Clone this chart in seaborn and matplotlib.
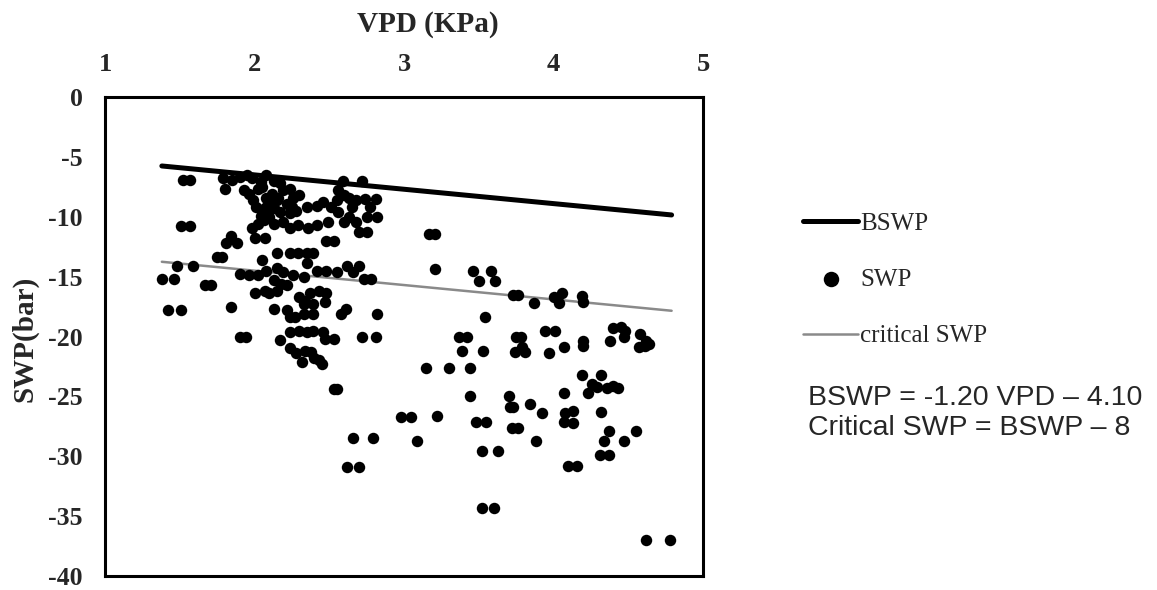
import matplotlib
matplotlib.use("Agg")
import matplotlib.pyplot as plt
import seaborn as sns

vpd = [
    1.52, 1.57, 1.51, 1.57, 1.38, 1.46, 1.48, 1.59, 1.67, 1.71,
    1.42, 1.51, 1.75, 1.78, 1.84, 1.84, 1.81, 1.88, 1.79, 1.85,
    1.80, 1.90, 1.94,
    2.17, 2.24, 2.30, 2.35, 2.39, 2.46, 2.47, 2.53,
    2.24, 2.28, 2.32, 2.34, 2.38, 2.40, 2.43, 2.45,
    2.53, 2.55, 2.66, 2.79, 2.62, 2.70, 2.72, 2.81,
    3.15, 3.30, 3.44, 2.98, 3.05, 3.22, 3.09,
    3.17, 3.21, 3.21, 3.46, 3.58, 3.50, 3.61, 3.73, 3.76, 3.87,
    4.00, 4.06, 4.04, 4.19, 4.20, 3.54, 3.37, 3.42, 3.75, 3.78,
    3.94, 4.01, 4.40, 4.45, 4.48, 4.47, 4.38, 4.58, 4.62, 4.57,
    4.61, 4.64, 4.20, 4.20, 4.07, 3.39, 3.53, 3.74, 3.81, 3.79,
    3.97, 3.44, 3.70, 3.71, 3.73, 3.84, 3.92, 4.07, 4.08, 4.13,
    4.07, 4.13, 4.19, 4.32, 4.26, 4.23, 4.29, 4.36, 4.40, 4.43,
    4.32, 4.37, 4.34, 4.47, 4.55, 4.31, 4.37, 4.10, 4.16, 3.48,
    3.55, 3.72, 3.76, 3.88, 3.52, 3.63, 3.52, 3.60, 4.62, 4.78,
    1.90, 1.95, 1.98, 1.93, 1.96, 2.04, 2.08, 2.13, 2.17, 2.02,
    2.05, 2.59, 2.72, 2.56, 2.60,
    1.99, 2.01, 2.08, 2.12, 2.15, 2.19, 2.24, 2.26, 2.30, 2.22,
    2.13, 2.07, 2.04, 2.10, 2.17, 2.24, 2.28, 2.02, 1.98, 2.06,
    2.13, 2.19, 2.24, 2.29, 2.25, 2.16, 2.09,
    2.35, 2.42, 2.46, 2.51, 2.55, 2.63, 2.68, 2.74, 2.81, 2.82,
    2.75, 2.68, 2.63, 2.56, 2.49, 2.42, 2.36, 2.60, 2.65, 2.77,
    2.00, 2.07, 2.48, 2.53, 2.70, 2.75, 2.15, 2.24, 2.29, 2.35,
    2.39, 2.05,
    1.90, 1.96, 2.02, 2.08, 2.15, 2.19, 2.26, 2.33, 2.35, 2.42,
    2.48, 2.55, 2.62, 2.70, 2.66, 2.73, 2.78, 2.00, 2.07, 2.10,
    2.15, 2.22, 2.30, 2.34, 2.37, 2.43, 2.48, 2.33, 2.39, 2.47,
    2.13, 2.18, 2.13, 2.22, 2.24, 2.27, 2.33, 2.39, 2.61, 2.58,
    2.82,
]
swp = [
    -6.9, -6.9, -10.8, -10.8, -15.2, -15.2, -14.1, -14.1, -15.7, -15.7,
    -17.8, -17.8, -13.4, -13.4, -17.5, -11.6, -12.2, -12.2, -6.8, -6.9,
    -7.7, -20.0, -20.0,
    -20.3, -19.6, -19.5, -19.6, -19.5, -19.6, -20.2, -20.2,
    -21.0, -21.4, -22.1, -21.2, -21.3, -21.8, -22.0, -22.3,
    -24.4, -24.4, -28.5, -28.5, -30.9, -30.9, -20.0, -20.0,
    -22.6, -22.6, -22.6, -26.7, -26.7, -26.6, -28.7,
    -11.4, -11.4, -14.4, -14.5, -14.5, -15.4, -15.4, -16.5, -16.5, -17.2,
    -16.7, -16.4, -17.2, -16.6, -17.1, -18.4, -20.0, -20.0, -20.0, -20.0,
    -19.5, -19.5, -19.3, -19.2, -19.5, -20.0, -20.4, -19.8, -20.4, -20.9,
    -20.8, -20.6, -20.4, -20.8, -20.9, -21.2, -21.2, -21.3, -21.3, -20.9,
    -21.4, -25.0, -25.0, -25.9, -25.9, -25.6, -26.4, -24.7, -26.4, -26.2,
    -27.1, -27.2, -23.2, -23.2, -24.0, -24.7, -24.2, -24.3, -24.1, -24.3,
    -26.3, -27.9, -28.7, -28.7, -27.9, -29.9, -29.9, -30.8, -30.8, -27.1,
    -27.1, -27.6, -27.6, -28.7, -29.6, -29.6, -34.3, -34.3, -37.0, -37.0,
    -6.7, -6.5, -6.8, -7.8, -8.1, -7.1, -6.5, -7.0, -7.2, -7.7,
    -7.5, -7.0, -7.0, -7.8, -8.2,
    -8.6, -9.2, -8.4, -8.1, -8.6, -7.8, -7.7, -8.4, -8.2, -8.9,
    -9.3, -9.3, -9.9, -10.0, -9.6, -9.7, -9.5, -10.6, -10.9, -10.3,
    -10.6, -10.4, -10.9, -10.7, -9.2, -8.4, -8.9,
    -9.2, -9.1, -8.8, -9.2, -8.6, -8.4, -8.6, -8.5, -8.5, -10.0,
    -10.0, -10.4, -10.0, -9.6, -10.4, -10.7, -10.9, -10.4, -9.2, -9.2,
    -11.8, -11.8, -12.0, -12.0, -11.3, -11.3, -13.0, -13.0, -13.0, -13.0,
    -13.0, -13.6,
    -14.8, -14.9, -14.9, -14.5, -14.3, -14.6, -14.9, -15.0, -13.9, -14.5,
    -14.5, -14.6, -14.1, -14.1, -14.6, -15.2, -15.2, -16.4, -16.2, -16.4,
    -16.2, -15.7, -16.7, -17.0, -16.4, -16.2, -16.4, -17.3, -17.3, -17.1,
    -15.3, -15.6, -17.7, -17.8, -18.4, -18.4, -18.1, -18.1, -17.7, -18.1,
    -18.1,
]

# boundary lines read at both ends of the plotted segment
line_vpd = [1.38, 4.79]
bswp = [-5.76, -9.85]
critical_swp = [-13.76, -17.85]

x_ticks = [1, 2, 3, 4, 5]
y_ticks = [0, -5, -10, -15, -20, -25, -30, -35, -40]
legend_labels = ["BSWP", "SWP", "critical SWP"]
equations = ["BSWP = -1.20 VPD \u2013 4.10", "Critical SWP = BSWP \u2013 8"]

sns.set_style("white")
plt.rcParams["font.family"] = ["Liberation Serif", "DejaVu Serif"]
plt.rcParams["axes.unicode_minus"] = False

fig = plt.figure(figsize=(11.57, 5.90), dpi=100)
ax = fig.add_axes([0.0908, 0.0237, 0.5168, 0.8119])

sns.lineplot(x=line_vpd, y=bswp, color="black", linewidth=3.6, ax=ax,
             label=legend_labels[0], zorder=2)
sns.scatterplot(x=vpd, y=swp, color="black", s=68, linewidth=0, ax=ax,
                label=legend_labels[1], zorder=3)
sns.lineplot(x=line_vpd, y=critical_swp, color="#8a8a8a", linewidth=1.8, ax=ax,
             label=legend_labels[2], zorder=2)

ax.set_xlim(1, 5)
ax.set_ylim(-40, 0)
ax.xaxis.tick_top()
ax.set_xticks(x_ticks)
ax.set_xticklabels([str(t) for t in x_ticks], fontweight="bold")
ax.set_yticks(y_ticks)
ax.set_yticklabels([str(t) for t in y_ticks], fontweight="bold")
ax.tick_params(axis="x", length=0, pad=15, labelsize=19)
ax.tick_params(axis="y", length=0, pad=16, labelsize=18.5)

ax.set_xlabel("VPD (KPa)", fontsize=21, fontweight="bold", va="center")
ax.xaxis.set_label_position("top")
ax.xaxis.set_label_coords(0.54, 1.136)
ax.set_ylabel("SWP(bar)", fontsize=21, fontweight="bold", va="center")
ax.yaxis.set_label_coords(-0.134, 0.495)

for spine in ax.spines.values():
    spine.set_color("black")
    spine.set_linewidth(2.2)

ax.legend(loc="upper left", bbox_to_anchor=(803 / 1157, 1 - 212 / 590),
          bbox_transform=fig.transFigure, frameon=False, fontsize=18,
          handlelength=2.2, handletextpad=0.1, labelspacing=1.36,
          borderpad=0, borderaxespad=0, markerscale=1.35)

for i, eq in enumerate(equations):
    fig.text(808 / 1157, 1 - (398 + 30 * i) / 590, eq, fontsize=20.5,
             family=["Liberation Sans", "DejaVu Sans"], va="center")

fig.savefig("out.png", dpi=100)
plt.close(fig)
